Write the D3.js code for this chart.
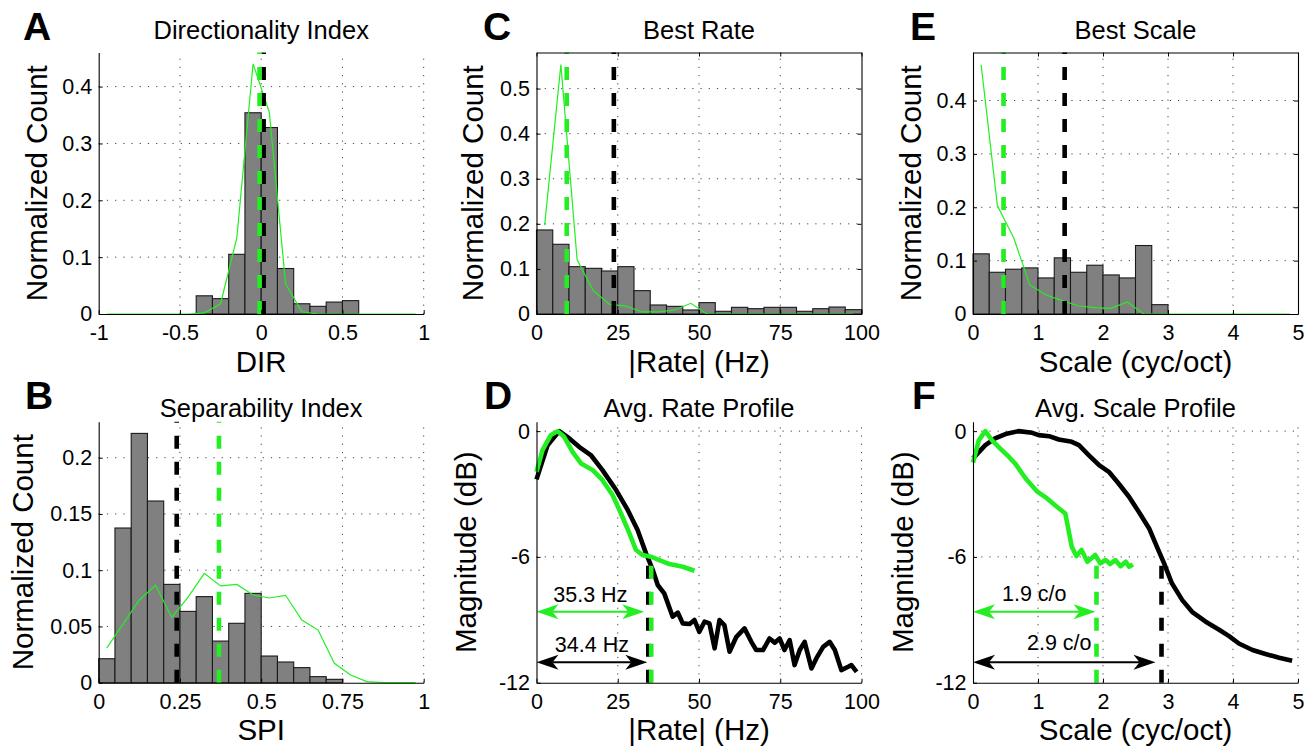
<!DOCTYPE html>
<html><head><meta charset="utf-8">
<script src="https://cdn.jsdelivr.net/npm/d3@7"></script>
<style>
body{margin:0;background:#fff}
svg{display:block}
text{font-family:"Liberation Sans",Arial,Helvetica,sans-serif;fill:#000}
</style>
</head><body>
<svg id="fig" width="1310" height="748"></svg>
<script>
// ---------------- DATA ----------------
// A: Directionality Index
const dirBinCenters = [-0.35,-0.25,-0.15,-0.05,0.05,0.15,0.25,0.35,0.45,0.55];
const dirCounts     = [0.032,0.027,0.105,0.354,0.328,0.080,0.018,0.0135,0.021,0.0235];
const dirModelX = [-0.95,-0.85,-0.75,-0.65,-0.55,-0.45,-0.35,-0.25,-0.15,-0.05,0.05,0.15,0.25,0.35,0.45,0.55,0.65,0.75,0.85,0.95];
const dirModelY = [0,0,0,0,0,0,0.002,0.018,0.134,0.44,0.355,0.053,0.004,0,0,0,0,0,0,0];
const dirMedianData = 0.015, dirMedianModel = -0.01;

// B: Separability Index
const spiBinCenters = [0.025,0.075,0.125,0.175,0.225,0.275,0.325,0.375,0.425,0.475,0.525,0.575,0.625,0.675,0.725];
const spiCounts     = [0.0213,0.1375,0.2216,0.1615,0.0874,0.0634,0.0765,0.037,0.0528,0.0794,0.0237,0.0184,0.0134,0.0054,0.003];
const spiModelX = [0.025,0.075,0.125,0.175,0.225,0.275,0.325,0.375,0.425,0.475,0.525,0.575,0.625,0.675,0.725,0.775,0.825,0.875,0.925,0.975];
const spiModelY = [0.031,0.052,0.0735,0.0866,0.058,0.076,0.0972,0.086,0.0874,0.078,0.0753,0.0777,0.0557,0.0468,0.0172,0.0068,0.001,0,0,0];
const spiMedianData = 0.24, spiMedianModel = 0.37;

// C: Best Rate
const rateBinCenters = [2.5,7.5,12.5,17.5,22.5,27.5,32.5,37.5,42.5,47.5,52.5,57.5,62.5,67.5,72.5,77.5,82.5,87.5,92.5,97.5];
const rateCounts     = [0.1864,0.1546,0.105,0.1013,0.0954,0.105,0.0518,0.020,0.017,0.0089,0.0252,0.006,0.0148,0.0118,0.0148,0.0148,0.006,0.0118,0.0155,0.0096];
const rateModelY     = [0.197,0.553,0.12,0.0515,0.0214,0.0175,0.0045,0.0045,0.009,0.0237,0,0,0,0,0,0,0,0,0,0];
const rateMedianData = 23.8, rateMedianModel = 9.3;

// E: Best Scale
const scaleBinCenters = [0.125,0.375,0.625,0.875,1.125,1.375,1.625,1.875,2.125,2.375,2.625,2.875];
const scaleCounts     = [0.1127,0.0782,0.0839,0.0864,0.0676,0.1052,0.0782,0.0914,0.0732,0.0676,0.1283,0.0175];
const scaleModelX = [0.125,0.375,0.625,0.875,1.125,1.375,1.625,1.875,2.125,2.375,2.625,2.875,3.125,3.375,3.625,3.875,4.125,4.375,4.625,4.875];
const scaleModelY = [0.467,0.2034,0.143,0.0545,0.0357,0.025,0.015,0.0119,0.0106,0.0225,0,0,0,0,0,0,0,0,0,0];
const scaleMedianData = 1.41, scaleMedianModel = 0.47;

// D: Avg. Rate Profile (dB)
const rateProfDataX = [0,3.4,7.0,10.1,13.1,16.7,20.3,24.5,28.1,31.1,33.7,35.8,37.3,39.3,41.9,43.5,45.0,47.1,48.6,50.1,51.7,53.2,54.8,56.3,57.8,59.4,61.5,64.0,66.1,67.6,69.7,71.7,73.3,74.8,76.3,77.9,79.4,81.0,82.5,84.6,86.1,88.2,90.2,91.8,93.8,95.9,96.9,98.5];
const rateProfDataY = [-2.3,-0.67,0,-0.35,-0.75,-1.14,-1.86,-2.81,-3.77,-4.72,-5.83,-6.63,-7.34,-7.74,-8.85,-8.66,-9.17,-9.2,-9.01,-9.57,-9.09,-9.17,-10.36,-9.01,-9.25,-10.52,-9.81,-9.41,-10.05,-10.44,-10.44,-9.89,-10.09,-9.89,-10.44,-9.97,-11.16,-10.44,-10.05,-11.32,-10.84,-10.29,-10.05,-10.44,-11.4,-11.24,-11.16,-11.48];
const rateProfModelX = [0,1.85,4.4,6.5,8.5,11.1,13.7,17.3,20.3,23.4,26.0,28.6,30.6,32.7,35.2,37.8,40.9,45.0,48.6];
const rateProfModelY = [-1.94,-0.91,-0.19,0,-0.27,-0.99,-1.54,-1.86,-2.34,-3.05,-3.93,-4.88,-5.67,-5.91,-5.99,-6.15,-6.34,-6.47,-6.66];
const rateCutData = 34.4, rateCutModel = 35.3;
const rateCutLabels = ["34.4 Hz","35.3 Hz"];

// F: Avg. Scale Profile (dB)
const scaleProfDataX = [0,0.19,0.34,0.50,0.70,0.91,1.01,1.17,1.32,1.52,1.63,1.78,1.94,2.09,2.24,2.40,2.55,2.71,2.83,2.94,3.06,3.22,3.37,3.58,3.78,3.94,4.09,4.30,4.50,4.71,4.91];
const scaleProfDataY = [-1.3,-0.67,-0.35,-0.14,0,-0.08,-0.19,-0.24,-0.4,-0.51,-0.67,-1.14,-1.62,-1.94,-2.5,-3.13,-3.85,-4.64,-5.52,-6.31,-7.26,-8.06,-8.62,-9.09,-9.46,-9.78,-10.13,-10.44,-10.63,-10.81,-10.95];
const scaleProfModelX = [0,0.09,0.19,0.29,0.42,0.55,0.65,0.81,0.99,1.14,1.29,1.42,1.47,1.52,1.59,1.67,1.76,1.88,1.96,2.04,2.11,2.19,2.27,2.35,2.40,2.46];
const scaleProfModelY = [-1.5,-0.43,0,-0.43,-0.83,-1.22,-1.55,-2.26,-2.89,-3.21,-3.61,-3.93,-4.72,-5.52,-5.96,-5.67,-6.23,-5.91,-6.31,-6.15,-6.34,-6.15,-6.44,-6.23,-6.47,-6.36];
const scaleCutData = 2.9, scaleCutModel = 1.9;
const scaleCutLabels = ["2.9 c/o","1.9 c/o"];

// tick values
const dirTicksX = [-1,-0.5,0,0.5,1];
const dirTicksY = [0,0.1,0.2,0.3,0.4];
const spiTicksX = [0,0.25,0.5,0.75,1];
const spiTicksY = [0,0.05,0.1,0.15,0.2];
const rateTicksX = [0,25,50,75,100];
const rateTicksY = [0,0.1,0.2,0.3,0.4,0.5];
const scaleTicksX = [0,1,2,3,4,5];
const scaleTicksY = [0,0.1,0.2,0.3,0.4];
const dbTicksY = [-12,-6,0];

// ---------------- STYLE / LAYOUT ----------------
const GREEN = "#22ee22";
const TICKFS = 21.5, TITLEFS = 25.5, LABELFS = 29.5, ANNFS = 21.5;
const svg = d3.select("#fig");
const colLeft = [98.7, 536.5, 973];
const W = 325;
const rowTop = [52.5, 421.7], rowBottom = [314, 682.7];
const titleBase = [39.3, 416.7];
const letterBase = [40, 409];

function panel(o){
  const left = colLeft[o.col], top = rowTop[o.row], bottom = rowBottom[o.row];
  const H = bottom - top;
  const g = svg.append("g").attr("transform",`translate(${left},${top})`);
  const x = d3.scaleLinear().domain(o.xDomain).range([0,W]);
  const y = d3.scaleLinear().domain(o.yDomain).range([H,0]);

  // grid
  const gg = g.append("g").attr("stroke","#444").attr("stroke-width",1).attr("stroke-dasharray","1.2,7").attr("fill","none");
  o.xTicks.forEach(t=>{ if (x(t) > 1 && (x(t) < W-1 || !o.box)) gg.append("line").attr("x1",x(t)).attr("x2",x(t)).attr("y1",H).attr("y2",0); });
  o.yTicks.forEach(t=>{ if (y(t) < H-1) gg.append("line").attr("x1",0).attr("x2",W).attr("y1",y(t)).attr("y2",y(t)); });

  // bars
  if (o.bars){
    g.append("g").selectAll("rect").data(o.bars.c).join("rect")
      .attr("x",d=>x(d - o.bars.w/2)).attr("width",d=>x(d + o.bars.w/2)-x(d - o.bars.w/2))
      .attr("y",(d,i)=>y(o.bars.v[i])).attr("height",(d,i)=>H - y(o.bars.v[i]))
      .attr("fill","#808080").attr("stroke","#1a1a1a").attr("stroke-width",1.1);
  }
  // thin model line
  if (o.thin){
    g.append("path").datum(o.thin.x.map((d,i)=>[d,o.thin.y[i]]))
      .attr("d",d3.line().x(d=>x(d[0])).y(d=>y(d[1])))
      .attr("fill","none").attr("stroke",GREEN).attr("stroke-width",1.2);
  }
  // thick profile lines
  if (o.thick){
    o.thick.forEach(s=>{
      g.append("path").datum(s.x.map((d,i)=>[d,s.y[i]]))
        .attr("d",d3.line().x(d=>x(d[0])).y(d=>y(d[1])))
        .attr("fill","none").attr("stroke",s.color).attr("stroke-width",4.6)
        .attr("stroke-linejoin","round").attr("stroke-linecap","butt");
    });
  }
  // dashed vertical markers (drawn from bottom upward)
  if (o.dashes){
    o.dashes.forEach(dl=>{
      g.append("path").attr("d",`M${x(dl.v)},${H}L${x(dl.v)},${y(dl.top)}`)
        .attr("stroke",dl.color).attr("stroke-width",4.6).attr("stroke-dasharray","13,13").attr("fill","none");
    });
  }
  // double arrows
  if (o.arrows){
    o.arrows.forEach(a=>{
      const x0 = x(a.from), x1 = x(a.to) - (a.trim||0), yy = y(a.y);
      const L = 22, hw = 7.5, n = 16;
      g.append("line").attr("x1",x0+n).attr("x2",x1-n).attr("y1",yy).attr("y2",yy)
        .attr("stroke",a.color).attr("stroke-width",2);
      g.append("path").attr("d",`M${x0},${yy}L${x0+L},${yy-hw}L${x0+n},${yy}L${x0+L},${yy+hw}Z`).attr("fill",a.color);
      g.append("path").attr("d",`M${x1},${yy}L${x1-L},${yy-hw}L${x1-n},${yy}L${x1-L},${yy+hw}Z`).attr("fill",a.color);
      g.append("text").attr("x",(x0+x1)/2 + (a.dx||0)).attr("y",yy + a.labelDy)
        .attr("text-anchor","middle").attr("font-size",ANNFS).text(a.label);
    });
  }

  // axes
  const fmt = d=>String(d);
  g.append("g").attr("transform",`translate(0,${H})`)
    .call(d3.axisBottom(x).tickValues(o.xTicks).tickFormat(fmt).tickSizeInner(-4).tickSizeOuter(0).tickPadding(11.2));
  g.append("g")
    .call(d3.axisLeft(y).tickValues(o.yTicks).tickFormat(fmt).tickSizeInner(-4).tickSizeOuter(0).tickPadding(6.5));
  if (o.box){
    g.append("g").call(d3.axisTop(x).tickValues(o.xTicks).tickFormat("").tickSizeInner(-4).tickSizeOuter(0));
    g.append("g").attr("transform",`translate(${W},0)`).call(d3.axisRight(y).tickValues(o.yTicks).tickFormat("").tickSizeInner(-4).tickSizeOuter(0));
  }
  g.selectAll(".domain").attr("stroke","#000").attr("stroke-width",1.1);
  g.selectAll(".tick line").attr("stroke","#000");
  g.selectAll(".tick text").attr("font-size",TICKFS).attr("font-family",'"Liberation Sans",Arial,sans-serif').attr("fill","#000");

  // labels
  g.append("text").attr("x",W/2).attr("y",titleBase[o.row]-top).attr("text-anchor","middle").attr("font-size",TITLEFS).text(o.title);
  g.append("text").attr("x",W/2).attr("y",H+57.5).attr("text-anchor","middle").attr("font-size",LABELFS).text(o.xlabel);
  g.append("text").attr("transform",`translate(${-o.ylabOff},${H/2}) rotate(-90)`).attr("text-anchor","middle").attr("font-size",LABELFS).text(o.ylabel);
  svg.append("text").attr("x",o.letterX).attr("y",letterBase[o.row]).attr("font-size",39).attr("font-weight","bold").text(o.letter);
}

panel({col:0,row:0,letter:"A",letterX:23,title:"Directionality Index",xlabel:"DIR",ylabel:"Normalized Count",ylabOff:51.7,
  xDomain:[-1,1],yDomain:[0,0.46],xTicks:dirTicksX,yTicks:dirTicksY,box:false,
  bars:{c:dirBinCenters,v:dirCounts,w:0.1},thin:{x:dirModelX,y:dirModelY},
  dashes:[{v:dirMedianData,color:"#000",top:0.46},{v:dirMedianModel,color:GREEN,top:0.46}]});

panel({col:0,row:1,letter:"B",letterX:25,title:"Separability Index",xlabel:"SPI",ylabel:"Normalized Count",ylabOff:65.4,
  xDomain:[0,1],yDomain:[0,0.232],xTicks:spiTicksX,yTicks:spiTicksY,box:false,
  bars:{c:spiBinCenters,v:spiCounts,w:0.05},thin:{x:spiModelX,y:spiModelY},
  dashes:[{v:spiMedianData,color:"#000",top:0.232},{v:spiMedianModel,color:GREEN,top:0.232}]});

panel({col:1,row:0,letter:"C",letterX:483,title:"Best Rate",xlabel:"|Rate| (Hz)",ylabel:"Normalized Count",ylabOff:53.5,
  xDomain:[0,100],yDomain:[0,0.58],xTicks:rateTicksX,yTicks:rateTicksY,box:true,
  bars:{c:rateBinCenters,v:rateCounts,w:5},thin:{x:rateBinCenters,y:rateModelY},
  dashes:[{v:rateMedianData,color:"#000",top:0.58},{v:rateMedianModel,color:GREEN,top:0.58}]});

panel({col:1,row:1,letter:"D",letterX:484,title:"Avg. Rate Profile",xlabel:"|Rate| (Hz)",ylabel:"Magnitude (dB)",ylabOff:60.5,
  xDomain:[0,100],yDomain:[-12,0.45],xTicks:rateTicksX,yTicks:dbTicksY,box:false,
  thick:[{x:rateProfDataX,y:rateProfDataY,color:"#000"},{x:rateProfModelX,y:rateProfModelY,color:GREEN}],
  dashes:[{v:rateCutData,color:"#000",top:-6},{v:rateCutModel,color:GREEN,top:-6}],
  arrows:[{from:0,to:rateCutModel,trim:7,y:-8.62,color:GREEN,label:rateCutLabels[1],labelDy:-10},
          {from:0,to:rateCutData,trim:1,y:-11.03,color:"#000",label:rateCutLabels[0],labelDy:-10}]});

panel({col:2,row:0,letter:"E",letterX:910,title:"Best Scale",xlabel:"Scale (cyc/oct)",ylabel:"Normalized Count",ylabOff:52.3,
  xDomain:[0,5],yDomain:[0,0.49],xTicks:scaleTicksX,yTicks:scaleTicksY,box:true,
  bars:{c:scaleBinCenters,v:scaleCounts,w:0.25},thin:{x:scaleModelX,y:scaleModelY},
  dashes:[{v:scaleMedianData,color:"#000",top:0.49},{v:scaleMedianModel,color:GREEN,top:0.49}]});

panel({col:2,row:1,letter:"F",letterX:912,title:"Avg. Scale Profile",xlabel:"Scale (cyc/oct)",ylabel:"Magnitude (dB)",ylabOff:60.5,
  xDomain:[0,5],yDomain:[-12,0.45],xTicks:scaleTicksX,yTicks:dbTicksY,box:false,
  thick:[{x:scaleProfDataX,y:scaleProfDataY,color:"#000"},{x:scaleProfModelX,y:scaleProfModelY,color:GREEN}],
  dashes:[{v:scaleCutData,color:"#000",top:-6},{v:scaleCutModel,color:GREEN,top:-6}],
  arrows:[{from:0,to:scaleCutModel,trim:1,y:-8.62,color:GREEN,label:scaleCutLabels[1],labelDy:-11},
          {from:0,to:scaleCutData,trim:6,y:-11.03,color:"#000",label:scaleCutLabels[0],labelDy:-12,dx:-5}]});
</script>
</body></html>
